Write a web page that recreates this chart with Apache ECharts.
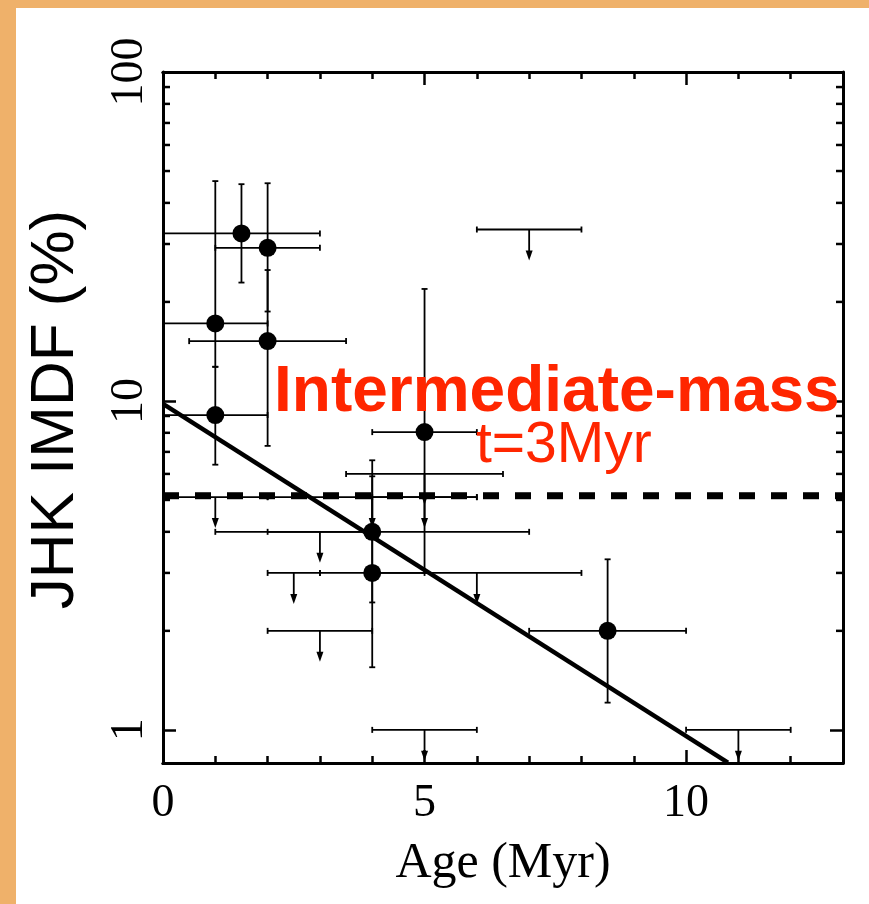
<!DOCTYPE html>
<html>
<head>
<meta charset="utf-8">
<script src="https://cdn.jsdelivr.net/npm/echarts@6/dist/echarts.min.js"></script>
<style>
  html, body { margin: 0; padding: 0; background: #EFB16A; }
  #chart { width: 869px; height: 904px; }
</style>
</head>
<body>
<div id="chart"></div>
<script>
// Detections: [age, IMDF %, age low, age high, IMDF low, IMDF high]
const detections = [
  [1.5, 32.3, 0, 3, 22.9, 45.6],
  [2, 29.2, 1, 3, 18.7, 45.9],
  [1, 17.2, 0, 2, 12.7, 46.6],
  [2, 15.2, 0.5, 3.5, 7.3, 25],
  [1, 9.06, 0, 2, 6.4, 12.7],
  [5, 8.04, 4, 6, 3.0, 21.9],
  [4, 4.0, 1, 7, 2.44, 6.6],
  [4, 3.0, 3, 5, 1.55, 5.9],
  [8.5, 2.0, 7, 10, 1.21, 3.3]
];

// Upper limits: [age, IMDF limit %, age low, age high]
const upperLimits = [
  [7, 33.2, 6, 8],
  [1, 5.1, 0, 2],
  [4, 5.1, 2, 6],
  [5, 5.1, 4, 6],
  [5, 6.0, 3.5, 6.5],
  [3, 4.0, 2, 4],
  [2.5, 3.0, 2, 3],
  [6, 3.0, 4, 8],
  [3, 2.0, 2, 4],
  [5, 1.0, 4, 6],
  [11, 1.0, 10, 12]
];

// Exponential decay fit and the t = 3 Myr intermediate-mass level
const fitLine = [[0, 9.8], [10.8, 0.795]];
const intermediateLevel = 5.15;

// Axis ranges and tick values
const xRange = [0, 13];
const yRange = [0.793, 100];
const xMajorTicks = [0, 5, 10];
const xMinorTicks = [1, 2, 3, 4, 6, 7, 8, 9, 11, 12];
const yMajorTicks = [1, 10, 100];
const yMinorTicks = [2, 3, 4, 5, 6, 7, 8, 9, 20, 30, 40, 50, 60, 70, 80, 90];

const INK = '#000';
const FRAME_W = 3;
const BAR_W = 1.8;
const CAP = 3;

function renderDetection(params, api) {
  const x = api.value(0), y = api.value(1);
  const l = api.coord([api.value(2), y]);
  const r = api.coord([api.value(3), y]);
  const lo = api.coord([x, api.value(4)]);
  const hi = api.coord([x, api.value(5)]);
  const style = { stroke: INK, lineWidth: BAR_W };
  const seg = (x1, y1, x2, y2) => ({ type: 'line', shape: { x1, y1, x2, y2 }, style });
  return {
    type: 'group',
    children: [
      seg(l[0], l[1], r[0], r[1]),
      seg(l[0], l[1] - CAP, l[0], l[1] + CAP),
      seg(r[0], r[1] - CAP, r[0], r[1] + CAP),
      seg(lo[0], lo[1], hi[0], hi[1]),
      seg(lo[0] - CAP, lo[1], lo[0] + CAP, lo[1]),
      seg(hi[0] - CAP, hi[1], hi[0] + CAP, hi[1])
    ]
  };
}

const ARROW_LEN = 31, HEAD_L = 10, HEAD_W = 3.5;
function renderUpperLimit(params, api) {
  const x = api.value(0), y = api.value(1);
  const c = api.coord([x, y]);
  const l = api.coord([api.value(2), y]);
  const r = api.coord([api.value(3), y]);
  const style = { stroke: INK, lineWidth: BAR_W };
  const seg = (x1, y1, x2, y2) => ({ type: 'line', shape: { x1, y1, x2, y2 }, style });
  const tip = c[1] + ARROW_LEN;
  return {
    type: 'group',
    children: [
      seg(l[0], l[1], r[0], r[1]),
      seg(l[0], l[1] - CAP, l[0], l[1] + CAP),
      seg(r[0], r[1] - CAP, r[0], r[1] + CAP),
      seg(c[0], c[1], c[0], tip - HEAD_L + 1),
      {
        type: 'polygon',
        shape: { points: [[c[0] - HEAD_W, tip - HEAD_L], [c[0] + HEAD_W, tip - HEAD_L], [c[0], tip]] },
        style: { fill: INK }
      }
    ]
  };
}

// Minor ticks of the log axis at 2..9 of each decade, drawn on both sides
const MINOR_LEN = 7;
function renderYMinorTick(params, api) {
  const v = api.value(0);
  const left = api.coord([xRange[0], v]);
  const right = api.coord([xRange[1], v]);
  const style = { stroke: INK, lineWidth: 2.5 };
  return {
    type: 'group',
    children: [
      { type: 'line', shape: { x1: left[0], y1: left[1], x2: left[0] + MINOR_LEN, y2: left[1] }, style },
      { type: 'line', shape: { x1: right[0], y1: right[1], x2: right[0] - MINOR_LEN, y2: right[1] }, style }
    ]
  };
}

const labelFont = { fontFamily: 'Liberation Serif', color: INK };

function xAxisOf(position, ticks, len, withLabels) {
  return {
    type: 'value', position, min: xRange[0], max: xRange[1],
    axisLine: { show: true, onZero: false, lineStyle: { color: INK, width: FRAME_W } },
    axisTick: { show: true, inside: true, length: len, customValues: ticks, lineStyle: { color: INK, width: 2.5 } },
    axisLabel: withLabels
      ? Object.assign({ show: true, customValues: xMajorTicks, fontSize: 46, margin: 18 }, labelFont)
      : { show: false },
    splitLine: { show: false },
    minorTick: { show: false }
  };
}

const chart = echarts.init(document.getElementById('chart'), null, { renderer: 'canvas' });

chart.setOption({
  backgroundColor: '#EFB16A',
  animation: false,
  graphic: [
    { type: 'rect', z: -10, shape: { x: 16, y: 8, width: 853, height: 896 }, style: { fill: '#fff' } },
    {
      type: 'text', z: 100, x: 274, y: 361,
      style: { text: 'Intermediate-mass', fill: '#FF2600', font: 'bold 64px "Liberation Sans", Arial, sans-serif', verticalAlign: 'top' }
    },
    {
      type: 'text', z: 100, x: 476, y: 418,
      style: { text: 't=3Myr', fill: '#FF2600', font: '57px "Liberation Sans", Arial, sans-serif', verticalAlign: 'top' }
    }
  ],
  grid: { left: 163, right: 26, top: 72, bottom: 141, containLabel: false },
  xAxis: [
    Object.assign(xAxisOf('bottom', xMajorTicks, 13, true), {
      name: 'Age (Myr)', nameLocation: 'middle', nameGap: 76,
      nameTextStyle: { fontFamily: 'Liberation Serif', fontSize: 50, color: INK }
    }),
    xAxisOf('bottom', xMinorTicks, MINOR_LEN, false),
    xAxisOf('top', xMajorTicks, 13, false),
    xAxisOf('top', xMinorTicks, MINOR_LEN, false)
  ],
  yAxis: [
    {
      type: 'log', logBase: 10, position: 'left', min: yRange[0], max: yRange[1],
      axisLine: { show: true, onZero: false, lineStyle: { color: INK, width: FRAME_W } },
      axisTick: { show: true, inside: true, length: 13, lineStyle: { color: INK, width: 2.5 } },
      axisLabel: Object.assign({
        show: true, rotate: 90, fontSize: 46, margin: 10, showMinLabel: false,
        formatter: v => (yMajorTicks.some(t => Math.abs(t - v) < 1e-6) ? String(Math.round(v)) : '')
      }, labelFont),
      splitLine: { show: false },
      name: 'JHK IMDF (%)', nameLocation: 'middle', nameGap: 76, nameRotate: 90,
      nameTextStyle: { fontFamily: 'Liberation Sans', fontSize: 62, color: INK, padding: [0, 0, 0, 16] }
    },
    {
      type: 'log', logBase: 10, position: 'right', min: yRange[0], max: yRange[1],
      axisLine: { show: true, onZero: false, lineStyle: { color: INK, width: FRAME_W } },
      axisTick: { show: true, inside: true, length: 13, lineStyle: { color: INK, width: 2.5 } },
      axisLabel: { show: false },
      splitLine: { show: false }
    }
  ],
  series: [
    {
      type: 'custom', name: 'minor ticks', xAxisIndex: 0, yAxisIndex: 0, silent: true,
      renderItem: renderYMinorTick, data: yMinorTicks.map(v => [v]), encode: { y: 0 }, z: 3
    },
    {
      type: 'custom', name: 'upper limits', xAxisIndex: 0, yAxisIndex: 0, clip: true,
      renderItem: renderUpperLimit, data: upperLimits, encode: { x: [0, 2, 3], y: 1 }, z: 4
    },
    {
      type: 'custom', name: 'error bars', xAxisIndex: 0, yAxisIndex: 0, clip: true,
      renderItem: renderDetection, data: detections, encode: { x: [0, 2, 3], y: [1, 4, 5] }, z: 4
    },
    {
      type: 'line', name: 'intermediate-mass level', xAxisIndex: 0, yAxisIndex: 0,
      data: [[xRange[0], intermediateLevel], [xRange[1], intermediateLevel]],
      showSymbol: false, symbol: 'none', lineStyle: { color: INK, width: 7, type: [16, 16] }, z: 5
    },
    {
      type: 'line', name: 'fit', xAxisIndex: 0, yAxisIndex: 0,
      data: fitLine, showSymbol: false, symbol: 'none', lineStyle: { color: INK, width: 4.5 }, z: 5
    },
    {
      type: 'scatter', name: 'detections', xAxisIndex: 0, yAxisIndex: 0,
      data: detections.map(d => [d[0], d[1]]), symbol: 'circle', symbolSize: 18,
      itemStyle: { color: INK, opacity: 1 }, z: 6
    }
  ]
});
</script>
</body>
</html>
